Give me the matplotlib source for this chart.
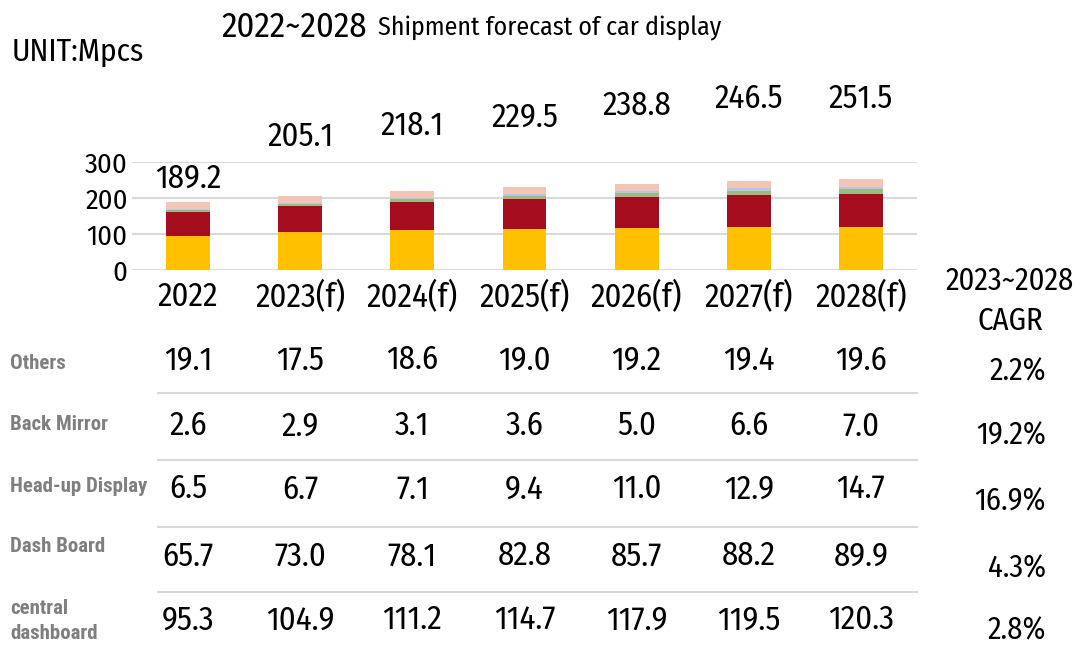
import matplotlib
matplotlib.use("Agg")
import matplotlib.pyplot as plt
from matplotlib.lines import Line2D
from matplotlib.transforms import blended_transform_factory
import numpy as np

years = ["2022", "2023(f)", "2024(f)", "2025(f)", "2026(f)", "2027(f)", "2028(f)"]
central = [95.3, 104.9, 111.2, 114.7, 117.9, 119.5, 120.3]
dash_board = [65.7, 73.0, 78.1, 82.8, 85.7, 88.2, 89.9]
hud = [6.5, 6.7, 7.1, 9.4, 11.0, 12.9, 14.7]
back_mirror = [2.6, 2.9, 3.1, 3.6, 5.0, 6.6, 7.0]
others = [19.1, 17.5, 18.6, 19.0, 19.2, 19.4, 19.6]
totals = [189.2, 205.1, 218.1, 229.5, 238.8, 246.5, 251.5]
cagr = ["2.2%", "19.2%", "16.9%", "4.3%", "2.8%"]
row_names = ["Others", "Back Mirror", "Head-up Display", "Dash Board", "central\ndashboard"]

plt.rcParams["font.family"] = ["Fira Sans Condensed", "DejaVu Sans"]
label_font = ["Roboto Condensed", "DejaVu Sans"]

W, H = 1081, 648
fig = plt.figure(figsize=(W / 100, H / 100), dpi=100)
ax = fig.add_axes([132 / W, 1 - 270 / H, (917 - 132) / W, 108 / H])

x = np.arange(len(years))
series = [central, dash_board, hud, back_mirror, others]
colors = ["#FFC000", "#A50D1F", "#9DBB7F", "#B4C7E7", "#F4C4B6"]
bottom = np.zeros(len(years))
for vals, c in zip(series, colors):
    ax.bar(x, vals, 0.39, bottom=bottom, color=c, zorder=3)
    bottom += np.array(vals)

ax.set_xlim(-0.5, 6.5)
ax.set_ylim(0, 300)
ax.set_yticks([0, 100, 200, 300])
ax.set_yticklabels(["0", "100", "200", "300"], fontsize=20.5)
ax.set_xticks([])
ax.grid(axis="y", color="#D9D9D9", linewidth=1.5, zorder=0)
ax.tick_params(axis="y", length=0, pad=3)
for s in ax.spines.values():
    s.set_visible(False)

tr = blended_transform_factory(ax.transData, fig.transFigure)
def fy(py):
    return 1 - py / H

# total labels sit at staggered heights above the bars
tot_py = [178, 137, 126, 117, 106, 99, 99]
for i, t in enumerate(totals):
    ax.text(i, fy(tot_py[i]), f"{t:.1f}", transform=tr, ha="center", va="center", fontsize=23.5)

for i, yr in enumerate(years):
    ax.text(i, fy(297), yr, transform=tr, ha="center", va="center", fontsize=23.5)

# table values
row_py = [360, 426, 489, 556, 620]
table_rows = [others, back_mirror, hud, dash_board, central]
for r, vals in enumerate(table_rows):
    for i, v in enumerate(vals):
        ax.text(i, fy(row_py[r]), f"{v:.1f}", transform=tr, ha="center", va="center", fontsize=23.5)

lab_py = [363, 425, 487, 547, 621]
for r, name in enumerate(row_names):
    fig.text(10 / W, fy(lab_py[r]), name, ha="left", va="center", fontsize=15,
             fontweight="bold", color="#7F7F7F", linespacing=1.4, family=label_font)

for py in [393, 460, 527, 592]:
    fig.add_artist(Line2D([158 / W, 917 / W], [fy(py), fy(py)], color="#D9D9D9", linewidth=1.5))

# CAGR column
fig.text(1010 / W, fy(281), "2023~2028", ha="center", va="center", fontsize=22)
fig.text(1010 / W, fy(321), "CAGR", ha="center", va="center", fontsize=22)
cagr_py = [372, 436, 502, 569, 631]
for r, c in enumerate(cagr):
    fig.text(1046 / W, fy(cagr_py[r]), c, ha="right", va="center", fontsize=22)

fig.text(12 / W, fy(52), "UNIT:Mpcs", ha="left", va="center", fontsize=22.5)
fig.text(221 / W, fy(27), "2022~2028", ha="left", va="center", fontsize=25)
fig.text(378 / W, fy(28), "Shipment forecast of car display", ha="left", va="center", fontsize=18.6)

fig.savefig("out.png", dpi=100)
